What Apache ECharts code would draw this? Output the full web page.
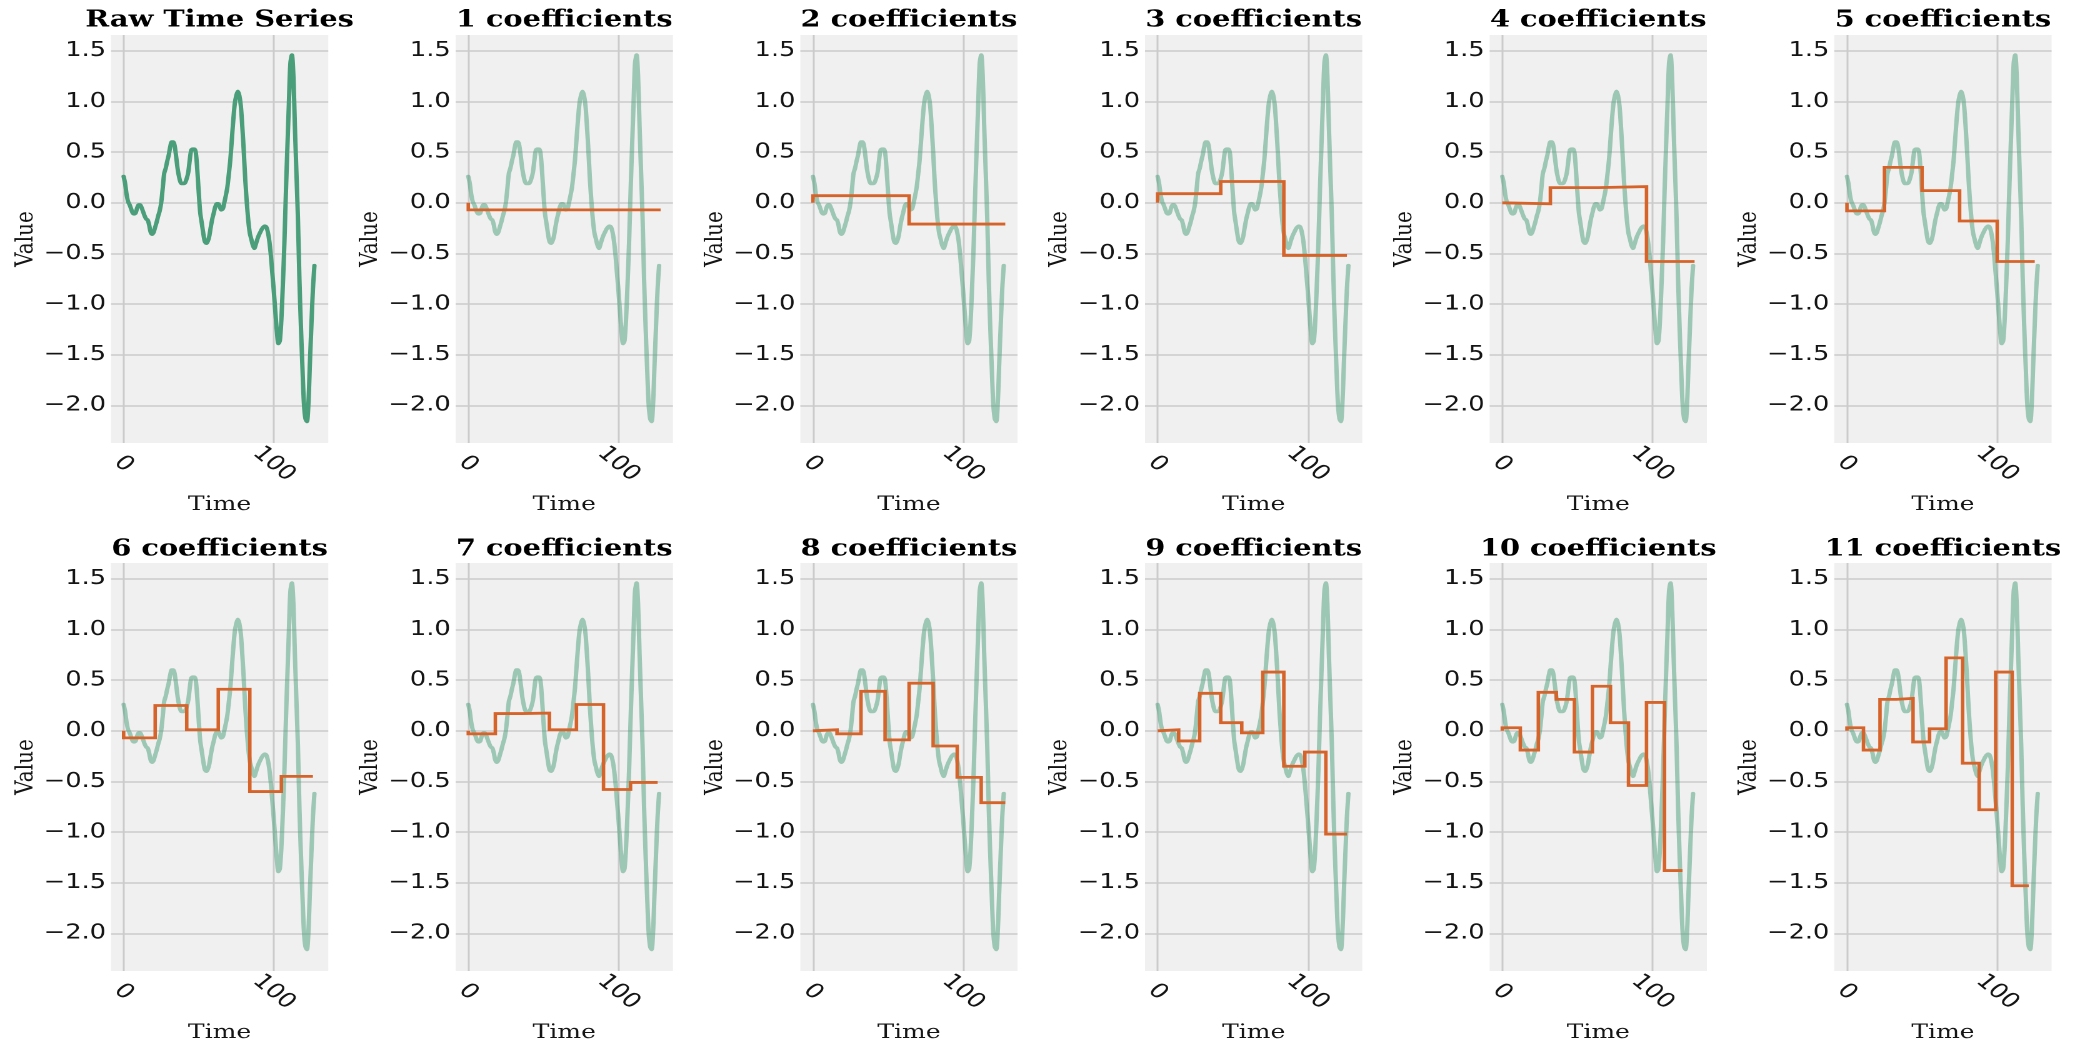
<!DOCTYPE html>
<html>
<head>
<meta charset="utf-8">
<title>Piecewise Aggregate Approximation</title>
<script src="https://cdn.jsdelivr.net/npm/echarts@6/dist/echarts.min.js"></script>
<style>
  html, body { margin: 0; padding: 0; background: #ffffff; overflow: hidden; }
  /* the figure is laid out at 1663px and widened to the 2079px page */
  #chart { width: 1663px; height: 1045px; transform: scaleX(1.25); transform-origin: 0 0; }
</style>
</head>
<body>
<div id="chart"></div>
<script>
// raw series, one value per time step (t = 0 .. 127)
const rawSeries = [
  0.26, 0.19, 0.08, 0.01, -0.02, -0.06, -0.10, -0.11, -0.10, -0.05,
  -0.02, -0.02, -0.05, -0.09, -0.13, -0.16, -0.17, -0.22, -0.29, -0.31,
  -0.29, -0.24, -0.19, -0.13, -0.08, 0.00, 0.14, 0.29, 0.34, 0.41,
  0.47, 0.55, 0.60, 0.60, 0.56, 0.45, 0.33, 0.25, 0.20, 0.19,
  0.19, 0.20, 0.24, 0.30, 0.42, 0.52, 0.53, 0.53, 0.50, 0.33,
  0.10, -0.10, -0.20, -0.30, -0.38, -0.40, -0.38, -0.33, -0.24, -0.16,
  -0.10, -0.04, -0.01, -0.01, -0.04, -0.07, -0.06, 0.00, 0.07, 0.15,
  0.28, 0.42, 0.62, 0.82, 0.98, 1.06, 1.10, 1.06, 0.96, 0.75,
  0.50, 0.22, 0.00, -0.18, -0.30, -0.36, -0.42, -0.45, -0.41, -0.36,
  -0.32, -0.29, -0.26, -0.24, -0.23, -0.24, -0.29, -0.38, -0.52, -0.70,
  -0.88, -1.08, -1.27, -1.39, -1.36, -1.15, -0.80, -0.40, 0.10, 0.55,
  0.98, 1.38, 1.46, 1.25, 0.75, 0.30, -0.15, -0.75, -1.22, -1.62,
  -1.98, -2.13, -2.16, -1.98, -1.58, -1.20, -0.85, -0.62
];

// segment means for each number of coefficients
const approx1  = [-0.07];
const approx2  = [0.07, -0.21];
const approx3  = [0.09, 0.21, -0.52];
const approx4  = [-0.01, 0.15, 0.16, -0.58];
const approx5  = [-0.08, 0.35, 0.12, -0.18, -0.58];
const approx6  = [-0.07, 0.25, 0.01, 0.41, -0.60, -0.45];
const approx7  = [-0.03, 0.17, 0.175, 0.01, 0.26, -0.58, -0.51];
const approx8  = [0.01, -0.03, 0.39, -0.09, 0.47, -0.15, -0.46, -0.71];
const approx9  = [0.01, -0.10, 0.37, 0.08, -0.02, 0.58, -0.35, -0.21, -1.02];
const approx10 = [0.03, -0.19, 0.38, 0.31, -0.21, 0.44, 0.08, -0.54, 0.28, -1.38];
const approx11 = [0.03, -0.19, 0.31, 0.32, -0.11, 0.02, 0.72, -0.32, -0.78, 0.58, -1.53];

const approximations = [approx1, approx2, approx3, approx4, approx5, approx6,
                        approx7, approx8, approx9, approx10, approx11];

const panelTitles = ['Raw Time Series'].concat(
  approximations.map(a => a.length + ' coefficients'));

// tick labels
const xTicks = [0, 100];
const yTicks = [-2.0, -1.5, -1.0, -0.5, 0.0, 0.5, 1.0, 1.5];

// layout (px, before horizontal widening)
const PANEL_LEFT = 88.8, PANEL_STEP = 275.73, PANEL_W = 173.8, PANEL_H = 408;
const ROW_TOP = [35, 563];
const TITLE_TOP = [9, 538];

const GREEN = '#4a9e7a';
const ORANGE = '#d6642a';
const TEXT = '#141414';
const GRID_LINE = '#cbcbcb';

const rawPoints = rawSeries.map((v, t) => [t, v]);

function stepPoints(values) {
  const seg = Math.floor(rawSeries.length / values.length);
  const pts = [[0, 0]];
  values.forEach((v, k) => pts.push([(k + 1) * seg, v]));
  return pts;
}

function fmtY(v) {
  return (v < 0 ? '\u2212' : '') + Math.abs(v).toFixed(1);
}

const grids = [], xAxes = [], yAxes = [], titles = [], series = [];

for (let i = 0; i < 12; i++) {
  const row = Math.floor(i / 6), col = i % 6;
  const left = PANEL_LEFT + col * PANEL_STEP;

  grids.push({
    left: left, top: ROW_TOP[row], width: PANEL_W, height: PANEL_H,
    show: true, backgroundColor: '#f0f0f0', borderWidth: 0
  });

  titles.push({
    text: panelTitles[i],
    left: left + PANEL_W / 2, top: TITLE_TOP[row],
    textAlign: 'center', textVerticalAlign: 'top', padding: 0,
    textStyle: { fontFamily: 'DejaVu Serif', fontWeight: 'bold', fontSize: 23, color: '#000' }
  });

  xAxes.push({
    type: 'value', gridIndex: i, min: -8.4, max: 136.2,
    name: 'Time', nameLocation: 'middle', nameGap: 52,
    nameTextStyle: { fontFamily: 'DejaVu Serif', fontSize: 20, color: TEXT, verticalAlign: 'top' },
    axisLine: { show: false },
    axisTick: { show: false, customValues: xTicks },
    axisLabel: {
      customValues: xTicks, rotate: -45, margin: 21,
      align: 'center', verticalAlign: 'middle',
      fontFamily: 'DejaVu Sans', fontSize: 20.5, color: TEXT
    },
    splitLine: { show: true, lineStyle: { color: GRID_LINE, width: 1.5 } }
  });

  yAxes.push({
    type: 'value', gridIndex: i, min: -2.372, max: 1.657,
    name: 'Value', nameLocation: 'middle', nameRotate: 90, nameGap: 58,
    nameTextStyle: { fontFamily: 'DejaVu Serif', fontSize: 20, color: TEXT },
    axisLine: { show: false },
    axisTick: { show: false, customValues: yTicks },
    axisLabel: {
      customValues: yTicks, margin: 4, formatter: fmtY,
      fontFamily: 'DejaVu Sans', fontSize: 20.5, color: TEXT
    },
    splitLine: { show: true, lineStyle: { color: GRID_LINE, width: 1.5 } }
  });

  series.push({
    type: 'line', xAxisIndex: i, yAxisIndex: i, data: rawPoints,
    showSymbol: false, smooth: 0.3, silent: true, z: 2,
    lineStyle: { color: GREEN, width: 3.5, opacity: i === 0 ? 1 : 0.5, cap: 'round', join: 'round' }
  });

  if (i > 0) {
    series.push({
      type: 'line', xAxisIndex: i, yAxisIndex: i, data: stepPoints(approximations[i - 1]),
      step: 'start', showSymbol: false, silent: true, z: 3,
      lineStyle: { color: ORANGE, width: 2.8, cap: 'butt', join: 'miter' }
    });
  }
}

const chart = echarts.init(document.getElementById('chart'), null,
  { renderer: 'canvas', devicePixelRatio: 2 });
chart.setOption({
  backgroundColor: '#ffffff',
  animation: false,
  title: titles,
  grid: grids,
  xAxis: xAxes,
  yAxis: yAxes,
  series: series
});
</script>
</body>
</html>
